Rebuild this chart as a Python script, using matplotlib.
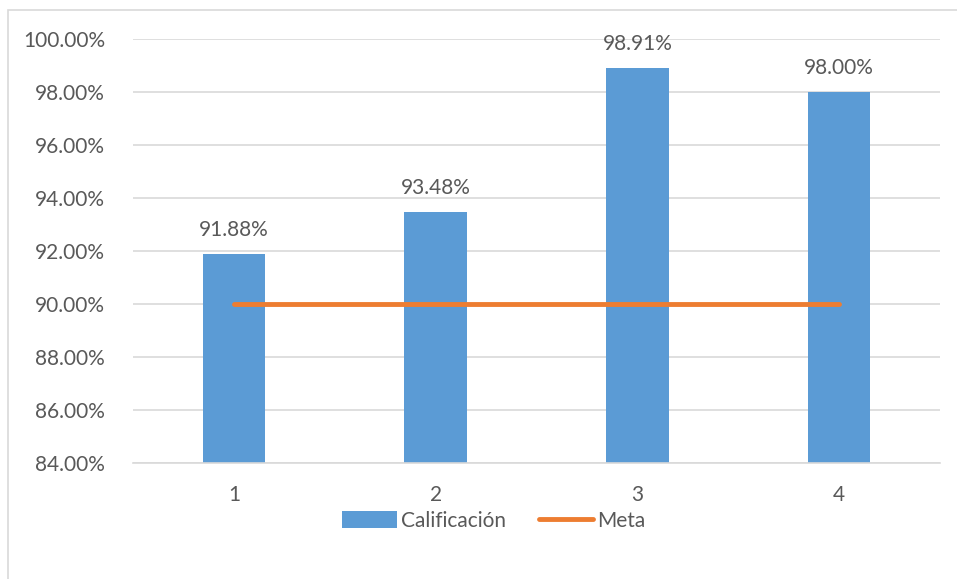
import matplotlib.pyplot as plt
from matplotlib.patches import Rectangle
from matplotlib.ticker import FuncFormatter

# Quarterly scores against the target
periodos = ['1', '2', '3', '4']
calificacion = [91.88, 93.48, 98.91, 98.00]
meta = [90.0, 90.0, 90.0, 90.0]

plt.rcParams['font.family'] = ['Lato', 'DejaVu Sans']
gris = '#595959'

fig = plt.figure(figsize=(9.57, 5.79), dpi=100)
ax = fig.add_axes([133 / 957, 1 - 463 / 579, (940 - 133) / 957, (463 - 39) / 579])

# light frame around the whole chart
fig.patches.append(Rectangle((8 / 957, -0.05), 1.1, 1 - 10 / 579 + 0.05,
                             transform=fig.transFigure, fill=False,
                             edgecolor='#D9D9D9', linewidth=1.2))

x = range(len(periodos))
bars = ax.bar(x, calificacion, width=0.31, color='#5B9BD5', label='Calificación', zorder=2)
linea, = ax.plot(x, meta, color='#ED7D31', linewidth=3.5, solid_capstyle='round',
                 label='Meta', zorder=3)

for b, v in zip(bars, calificacion):
    ax.annotate(f'{v:.2f}%', (b.get_x() + b.get_width() / 2, v),
                xytext=(0, 10), textcoords='offset points',
                ha='center', va='bottom', fontsize=15, color=gris)

ax.set_xlim(-0.5, 3.5)
ax.set_ylim(84, 100)
ax.set_yticks(range(84, 101, 2))
ax.yaxis.set_major_formatter(FuncFormatter(lambda v, p: f'{v:.2f}%'))
ax.set_xticks(list(x))
ax.set_xticklabels(periodos)
ax.tick_params(axis='both', length=0, labelsize=15, labelcolor=gris)
ax.tick_params(axis='y', pad=20)
ax.tick_params(axis='x', pad=16)
ax.grid(axis='y', color='#D9D9D9', linewidth=1.2, zorder=0)
ax.set_axisbelow(True)
for s in ['top', 'right', 'left']:
    ax.spines[s].set_visible(False)
ax.spines['bottom'].set_color('#D9D9D9')
ax.spines['bottom'].set_linewidth(1.2)

fig.legend([bars, linea], ['Calificación', 'Meta'], loc='center',
           bbox_to_anchor=(494 / 957, 1 - 521 / 579), ncol=2,
           frameon=False, fontsize=15, labelcolor=gris, handlelength=2.6,
           handleheight=0.9, handletextpad=0.2, columnspacing=1.6)

fig.savefig('out.png', dpi=100)
